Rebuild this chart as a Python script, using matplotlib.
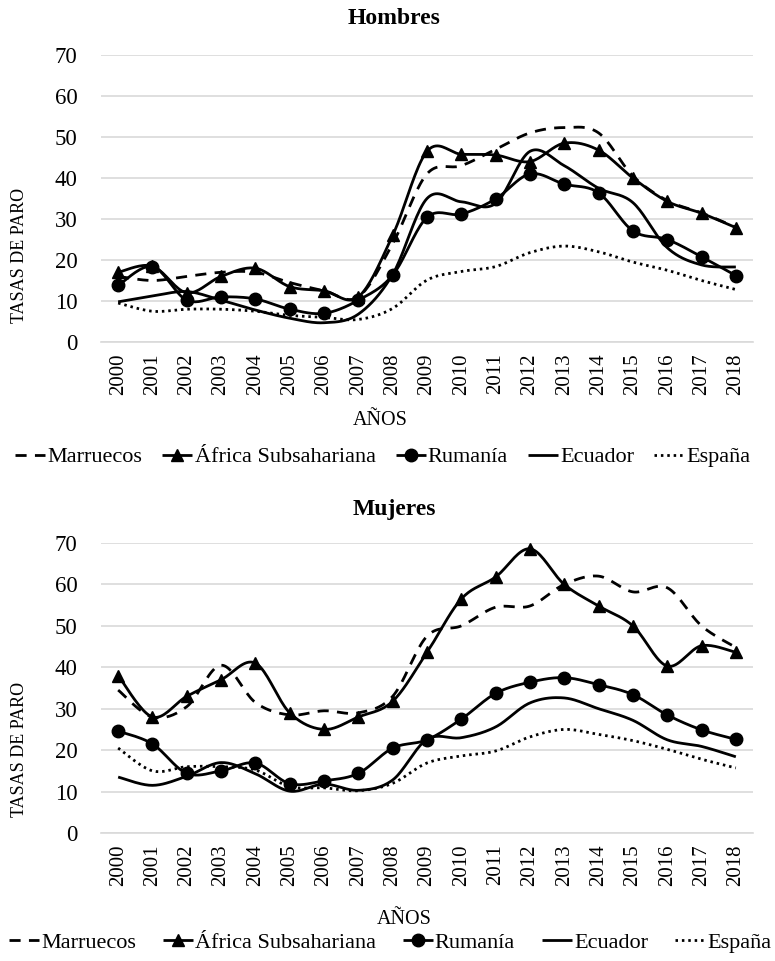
import numpy as np
import matplotlib
matplotlib.use("Agg")
import matplotlib.pyplot as plt

plt.rcParams['font.family'] = ['Liberation Serif', 'DejaVu Serif']

years = [str(y) for y in range(2000, 2019)]
series_names = ["Marruecos", "África Subsahariana", "Rumanía", "Ecuador", "España"]

# Hombres
h_marruecos = [16, 15, 16, 17, 17, 14.5, 12.5, 11, 24, 41, 43, 47, 51, 52.3, 51, 40.5, 34.5, 31.5, 28]
h_africa = [17, 18.5, 12, 16, 18, 13.5, 12.5, 11, 26, 46.5, 45.8, 45.6, 44, 48.5, 46.8, 40, 34.3, 31.4, 27.9]
h_rumania = [13.8, 18.4, 10.2, 11, 10.5, 8, 7, 10.2, 16.3, 30.4, 31.2, 34.9, 41, 38.5, 36.4, 27.1, 25, 20.8, 16.2]
h_ecuador = [9.8, 11.2, 12.3, 10.2, 7.8, 5.8, 4.7, 6.8, 16.5, 35, 34.2, 33.8, 46.5, 43, 37.5, 34, 23, 18.8, 18.3]
h_espana = [9.5, 7.5, 8, 8, 7.5, 6.5, 6, 5.5, 8.2, 15.1, 17.2, 18.4, 21.8, 23.4, 22, 19.5, 17.5, 15, 12.8]

# Mujeres
m_marruecos = [34.5, 28, 30.5, 40.5, 31.5, 28.5, 29.5, 29, 33, 47.5, 50, 54.5, 54.8, 60, 62, 58.2, 59.2, 50, 44.8]
m_africa = [38, 28, 33, 37, 41, 29, 25, 28, 31.8, 43.6, 56.5, 61.8, 68.6, 60, 54.8, 50, 40.3, 45.2, 43.6]
m_rumania = [24.6, 21.5, 14.4, 15, 16.9, 11.9, 12.6, 14.4, 20.5, 22.5, 27.5, 33.7, 36.4, 37.5, 35.8, 33.4, 28.5, 24.9, 22.6]
m_ecuador = [13.5, 11.5, 13.7, 17, 14.3, 10.1, 11.8, 10.3, 12.8, 22.6, 23, 25.6, 31.4, 32.6, 30, 27.2, 22.5, 20.9, 18.4]
m_espana = [20.5, 15, 16, 16, 15.2, 11.2, 10.9, 10.2, 12, 16.9, 18.6, 19.8, 23.2, 25, 23.8, 22.3, 20.2, 17.8, 15.7]

styles = [
    dict(linestyle=(0, (4, 3)), marker=None),
    dict(linestyle='-', marker='^', markersize=9),
    dict(linestyle='-', marker='o', markersize=9),
    dict(linestyle='-', marker=None),
    dict(linestyle=(0, (0.9, 1.4)), marker=None),
]

N = 20


def smooth(y):
    y = np.asarray(y, dtype=float)
    x = np.arange(len(y), dtype=float)
    xs, ys = [], []
    n = len(y)
    for i in range(n - 1):
        p0 = np.array([x[i], y[i]])
        p3 = np.array([x[i + 1], y[i + 1]])
        pm = np.array([x[i - 1], y[i - 1]]) if i > 0 else p0
        pp = np.array([x[i + 2], y[i + 2]]) if i + 2 < n else p3
        c1 = p0 + (p3 - pm) / 6.0
        c2 = p3 - (pp - p0) / 6.0
        t = np.linspace(0, 1, N, endpoint=False)[:, None]
        pts = ((1 - t) ** 3) * p0 + 3 * ((1 - t) ** 2) * t * c1 + 3 * (1 - t) * t ** 2 * c2 + t ** 3 * p3
        xs.extend(pts[:, 0]); ys.extend(pts[:, 1])
    xs.append(x[-1]); ys.append(y[-1])
    return np.array(xs), np.array(ys)


fig = plt.figure(figsize=(7.75, 9.61), dpi=100)
W, H = 775, 961


def make_axes(top_px, bottom_px):
    left, right = 101, 753
    return fig.add_axes([left / W, 1 - bottom_px / H, (right - left) / W, (bottom_px - top_px) / H])


panels = [
    ("Hombres", [h_marruecos, h_africa, h_rumania, h_ecuador, h_espana], 55, 342, 18, 420, 457, 383, 0.9, 255, 380),
    ("Mujeres", [m_marruecos, m_africa, m_rumania, m_ecuador, m_espana], 543, 833, 510, 920, 943, 390, 1.2, 749, 404),
]

for title, data, top_px, bot_px, title_y, xl_y, leg_y, leg_x, colsp, ylab_y, xl_x in panels:
    ax = make_axes(top_px, bot_px)
    handles = []
    for name, vals, st in zip(series_names, data, styles):
        xs, ys = smooth(vals)
        ln, = ax.plot(xs, ys, color='black', lw=2.0, linestyle=st['linestyle'],
                      marker=st['marker'], markersize=st.get('markersize', 0),
                      markevery=N, label=name, solid_capstyle='butt', dash_capstyle='butt')
        handles.append(ln)
    ax.set_xlim(-0.5, 18.5)
    ax.set_ylim(0, 70)
    ax.set_yticks(range(0, 71, 10))
    ax.set_xticks(range(len(years)))
    ax.set_xticklabels(years, rotation=90)
    ax.tick_params(axis='y', length=0, pad=17, labelsize=16.5)
    ax.tick_params(axis='x', length=0, pad=8, labelsize=15)
    ax.grid(axis='y', color='#d9d9d9', lw=1.2)
    ax.set_axisbelow(True)
    for s in ['top', 'right', 'left']:
        ax.spines[s].set_visible(False)
    ax.spines['bottom'].set_color('#d9d9d9')
    ax.spines['bottom'].set_linewidth(1.2)
    ax.set_ylabel("TASAS DE PARO", fontsize=13)
    ax.yaxis.set_label_coords(-0.112, 1 - (ylab_y - top_px) / (bot_px - top_px))
    fig.text(394 / W, 1 - title_y / H, title, ha='center', va='center', fontsize=17, fontweight='bold')
    fig.text(xl_x / W, 1 - xl_y / H, "AÑOS", ha='center', va='center', fontsize=14.5)
    fig.legend(handles=handles, loc='center', bbox_to_anchor=(leg_x / W, 1 - leg_y / H), ncol=5,
               frameon=False, fontsize=16, handlelength=1.35, handletextpad=0.1,
               columnspacing=colsp, borderpad=0, borderaxespad=0)

fig.savefig("out.png", dpi=100)
